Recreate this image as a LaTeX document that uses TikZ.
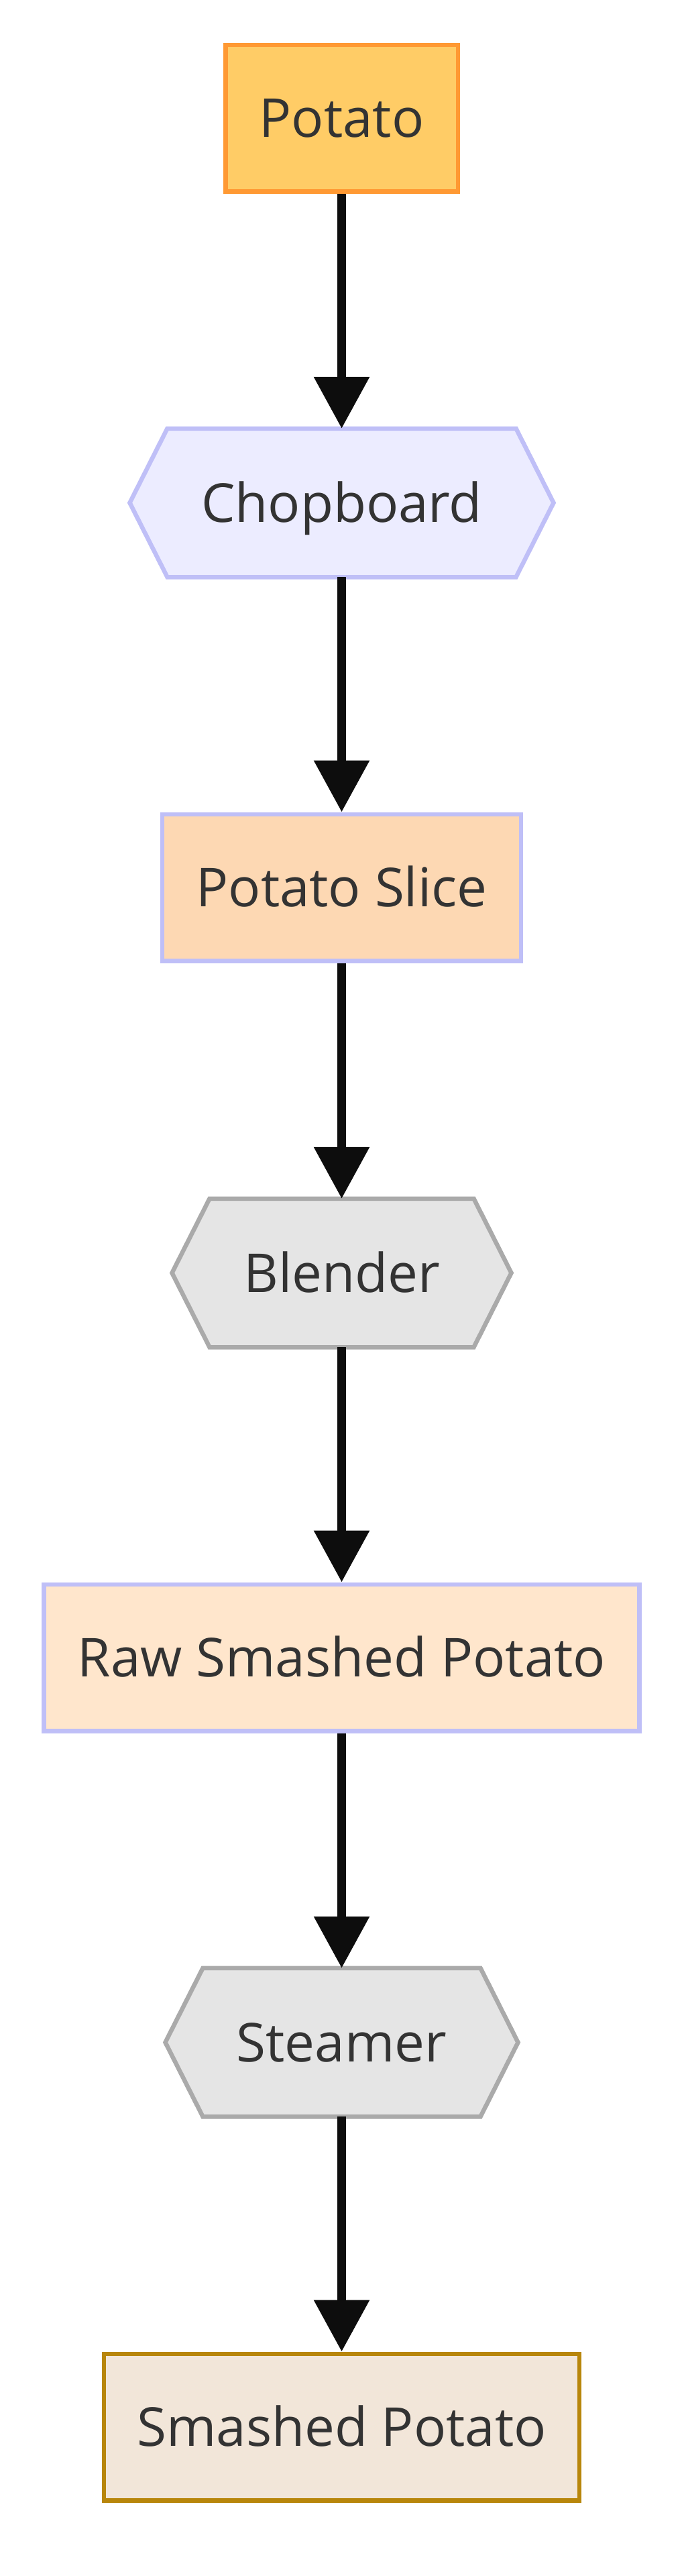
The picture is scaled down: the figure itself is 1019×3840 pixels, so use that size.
\documentclass[tikz,border=0pt]{standalone}
\usepackage{fontspec}
\setmainfont{Open Sans}
\usetikzlibrary{arrows.meta,calc}
\definecolor{txt}{HTML}{333333}
\definecolor{arrowc}{HTML}{0D0D0D}
\definecolor{potfill}{HTML}{FFCC66}
\definecolor{potdraw}{HTML}{FF9933}
\definecolor{toolfill}{HTML}{ECECFF}
\definecolor{lav}{HTML}{BFBFF7}
\definecolor{slicefill}{HTML}{FDD8B3}
\definecolor{greyfill}{HTML}{E5E5E5}
\definecolor{greydraw}{HTML}{AAAAAA}
\definecolor{rawfill}{HTML}{FFE6CC}
\definecolor{smfill}{HTML}{F2E6D9}
\definecolor{smdraw}{HTML}{B8860B}
\begin{document}
\begin{tikzpicture}[x=0.2pt,y=-0.2pt,
  lbl/.style={text=txt, font=\fontsize{16}{19}\selectfont, inner sep=0pt, text height=11.5pt, text depth=0pt},
  box/.style={lbl, draw, line width=1.3pt, minimum height=43.7pt},
  hexnode/.style={lbl, outer sep=0pt, minimum height=44.3pt},
  hexdraw/.style={line width=1.3pt},
  flow/.style={draw=arrowc, line width=2.6pt, -{Triangle[length=15.4pt,width=16pt]}}]
\useasboundingbox[fill=white] (0,0) rectangle (1019,3840);

\node[box, fill=potfill, draw=potdraw, minimum width=69.3pt] (potato) at (509.5,176) {Potato};

\node[hexnode, minimum width=104pt] (chop) at (509.5,749.5) {};
\draw[hexdraw, fill=toolfill, draw=lav] (chop.north west) -- (chop.north east) -- ($(chop.east)+(11.2pt,0)$) -- (chop.south east) -- (chop.south west) -- ($(chop.west)-(11.2pt,0)$) -- cycle;
\node[lbl] at (chop.center) {Chopboard};

\node[box, fill=slicefill, draw=lav, minimum width=106.9pt] (slice) at (509.5,1323) {Potato Slice};

\node[hexnode, minimum width=78.8pt] (blend) at (509.5,1897.5) {};
\draw[hexdraw, fill=greyfill, draw=greydraw] (blend.north west) -- (blend.north east) -- ($(blend.east)+(11.2pt,0)$) -- (blend.south east) -- (blend.south west) -- ($(blend.west)-(11.2pt,0)$) -- cycle;
\node[lbl] at (blend.center) {Blender};

\node[box, fill=rawfill, draw=lav, minimum width=177.5pt] (raw) at (509.5,2471) {Raw Smashed Potato};

\node[hexnode, minimum width=82.8pt] (steam) at (509.5,3044.5) {};
\draw[hexdraw, fill=greyfill, draw=greydraw] (steam.north west) -- (steam.north east) -- ($(steam.east)+(11.2pt,0)$) -- (steam.south east) -- (steam.south west) -- ($(steam.west)-(11.2pt,0)$) -- cycle;
\node[lbl] at (steam.center) {Steamer};

\node[box, fill=smfill, draw=smdraw, minimum width=141.7pt] (smashed) at (509.5,3618) {Smashed Potato};

\draw[flow] (potato) -- (chop);
\draw[flow] (chop) -- (slice);
\draw[flow] (slice) -- (blend);
\draw[flow] (blend) -- (raw);
\draw[flow] (raw) -- (steam);
\draw[flow] (steam) -- (smashed);
\end{tikzpicture}
\end{document}
